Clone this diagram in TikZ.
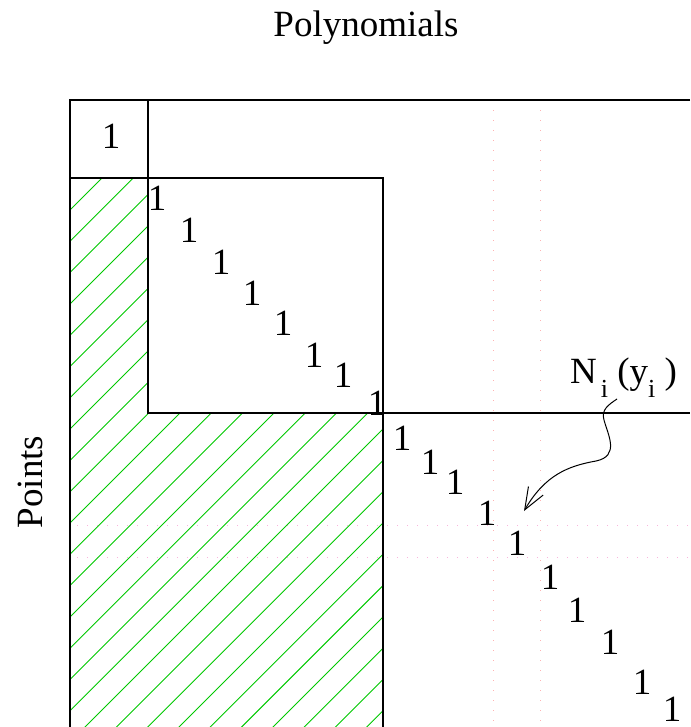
\documentclass[tikz,border=0pt]{standalone}
\usepackage{fontspec}
\setmainfont{Liberation Serif}
\usepackage{tikz}
\usetikzlibrary{arrows.meta, positioning, calc}

\definecolor{hatchgreen}{RGB}{0,200,0}
\newcommand{\lowi}{\raisebox{-0.4em}{\fontsize{26}{28}\selectfont i}}

\begin{document}
\begin{tikzpicture}[
    x=1pt, y=-1pt,
    font=\fontsize{37}{40}\selectfont,
    frame/.style={line width=1.2pt, black},
    hatch/.style={line width=0.9pt, hatchgreen},
    gridv/.style={red!30, line width=0.8pt, dash pattern=on 1pt off 9pt},
    gridh/.style={magenta!30, line width=0.8pt, dash pattern=on 1pt off 9pt},
    one/.style={inner sep=0pt}
]
    \useasboundingbox (0,0) rectangle (690,727);

    % Faint grid
    \foreach \gx in {493,540}
        \draw[gridv] (\gx,100) -- (\gx,727);
    \foreach \gy in {525,557}
        \draw[gridh] (77,\gy) -- (690,\gy);

    % Hatched region
    \begin{scope}
        \clip (70,178) -- (148,178) -- (148,413) -- (383,413) -- (383,727) -- (70,727) -- cycle;
        \foreach \k in {0,...,27}
            \draw[hatch] ({280+31.3*\k-150},150) -- ({280+31.3*\k-750},750);
    \end{scope}

    % Blocks
    \draw[frame] (690,100) -- (70,100) -- (70,727);
    \draw[frame] (70,178) -- (383,178) -- (383,727);
    \draw[frame] (148,100) -- (148,413) -- (690,413);

    % Titles
    \node[anchor=base] (poly) at (366,37) {Polynomials};
    \node[anchor=base, rotate=90] (pts) at (42,482) {Points};

    % Ones
    \node[one] (c0) at (111,136) {1};
    \foreach \px/\py [count=\i] in {157/198,189/230,221/262,252/293,283/323,314/355,343/375,377/403}
        \node[one] (d\i) at (\px,\py) {1};
    \foreach \px/\py [count=\i] in {402/438,430/462,455/482,487/513,517/543,550/577,577/610,610/642,642/682,672/709}
        \node[one] (e\i) at (\px,\py) {1};

    % Label and arrow
    \node[anchor=base west, inner sep=0pt] (Nlab) at (570,383) {N\hspace{4pt}\lowi\ (y\lowi\ )};
    \coordinate (Nfoot) at (617,399);
    \coordinate (Ntip) at (524,511);
    \draw[line width=1pt, -{Straight Barb[length=22pt,width=17pt]}] (Nfoot)
        .. controls (608,405) and (601,410) .. (604,420)
        .. controls (608,435) and (620,456) .. (596,461)
        .. controls (568,466) and (545,475) .. (Ntip);
\end{tikzpicture}
\end{document}
